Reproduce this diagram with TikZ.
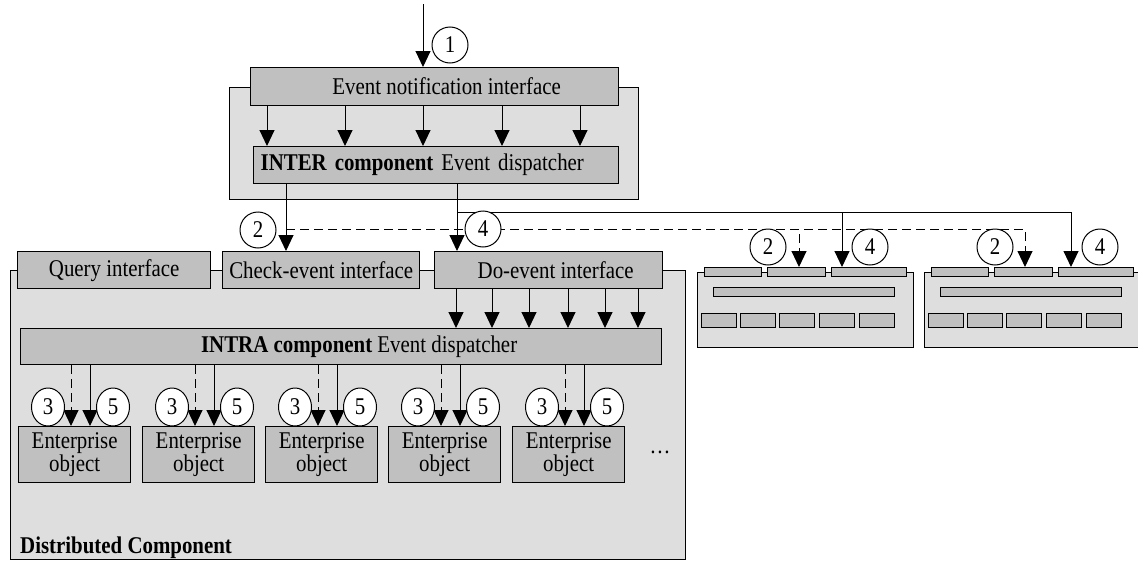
\documentclass[tikz,border=0pt]{standalone}
\usepackage{fontspec}
\setmainfont{Liberation Serif}[FakeStretch=0.87]
\usetikzlibrary{arrows.meta,shapes.geometric}
\definecolor{BoxGray}{HTML}{C0C0C0}
\definecolor{PanelGray}{HTML}{DEDEDE}

\tikzset{
  panel/.style={draw, line width=1.3pt, fill=PanelGray, anchor=north west, inner sep=0pt},
  ibox/.style={draw, line width=1.3pt, fill=BoxGray, anchor=north west, inner sep=0pt, align=center},
  mbox/.style={ibox, minimum height=9pt},
  num/.style={draw, circle, fill=white, line width=1pt, minimum size=36pt, inner sep=0pt},
  numo/.style={num, ellipse, minimum width=33pt, minimum height=38pt},
  flow/.style={line width=1pt, -{Triangle[width=15pt,length=16pt]}},
  chk/.style={flow, dash pattern=on 9pt off 5pt},
}

\begin{document}
\begin{tikzpicture}[x=1pt, y=-1pt, font=\fontsize{24}{21}\selectfont]
  \useasboundingbox (0,0) rectangle (1138,562);

  % ============================================
  % INTER component (top)
  % ============================================
  \node[panel, minimum width=409pt, minimum height=112pt] (topc) at (229,87) {};
  \node[ibox, minimum width=368pt, minimum height=38pt] (notif) at (250,67)
    {\hspace*{24pt}Event notification interface};
  \node[ibox, minimum height=37pt, text width=351pt, inner xsep=7pt, align=left] (inter) at (253,146)
    {\textbf{INTER component} Event dispatcher};

  % incoming event
  \coordinate (entry) at (423,4);
  \draw[flow] (entry) -- (entry |- notif.north);

  % notification -> dispatcher
  \foreach \x in {267,345,423,502,580} {
    \draw[flow] (\x,0 |- notif.south) -- (\x,0 |- inter.north);
  }

  % ============================================
  % Distributed Component
  % ============================================
  \node[panel, minimum width=675pt, minimum height=289pt] (dist) at (10,270) {};
  \node[font=\fontsize{24}{21}\selectfont\bfseries, anchor=base west, inner sep=0pt] (distlbl) at (20,553)
    {Distributed Component};

  % interfaces
  \node[ibox, minimum width=193pt, minimum height=37pt] (query) at (17,251) {Query interface};
  \node[ibox, minimum width=197pt, minimum height=37pt] (check) at (222,251) {Check-event interface};
  \node[ibox, minimum width=228pt, minimum height=37pt] (doev) at (434,251) {\hspace*{14pt}Do-event interface};

  % INTRA dispatcher
  \node[ibox, minimum width=641pt, minimum height=36pt] (intra) at (20,328)
    {\hspace*{36pt}\textbf{INTRA component} Event dispatcher};

  \foreach \x in {456,492,529,568,605,638} {
    \draw[flow] (\x,0 |- doev.south) -- (\x,0 |- intra.north);
  }

  % enterprise objects
  \foreach \i/\x in {1/18,2/142,3/265,4/388,5/512} {
    \node[ibox, minimum width=112pt, minimum height=56pt] (eo\i) at (\x,426) {Enterprise\\object};
    \draw[chk] (\x+53,0 |- intra.south) -- (\x+53,0 |- eo\i.north);
    \draw[flow] (\x+72,0 |- intra.south) -- (\x+72,0 |- eo\i.north);
    \node[numo] (nt\i) at (\x+30,407) {3};
    \node[numo] (nf\i) at (\x+95,407) {5};
  }
  \node (more) at (660,452) {\dots};

  % ============================================
  % other components (right)
  % ============================================
  \foreach \s/\sx in {a/0,b/227} {
    \begin{scope}[shift={(\sx,0)}]
      \node[panel, minimum width=216pt, minimum height=75pt] (sc\s) at (697,272) {};
      \node[mbox, minimum width=57pt] (q\s) at (704,267) {};
      \node[mbox, minimum width=58pt] (k\s) at (767,267) {};
      \node[mbox, minimum width=75pt] (d\s) at (831,267) {};
      \node[mbox, minimum width=181pt] (e\s) at (713,287) {};
      \foreach \j/\bx in {1/701,2/740,3/779,4/819,5/859} {
        \node[ibox, minimum width=35pt, minimum height=14pt] (o\s\j) at (\bx,313) {};
      }
    \end{scope}
  }

  % check-event / do-event calls
  \coordinate (ck) at (286,229);
  \coordinate (dv) at (457,212);
  \draw[flow] (286,0 |- inter.south) -- (286,0 |- check.north);
  \draw[flow] (457,0 |- inter.south) -- (457,0 |- doev.north);
  \draw[chk] (ck) -| (799,0 |- ka.north);
  \draw[chk] (ck) -| (1025,0 |- kb.north);
  \draw[flow] (dv) -| (842,0 |- da.north);
  \draw[flow] (dv) -| (1071,0 |- db.north);

  % step numbers
  \node[num] (n1) at (450,45) {1};
  \node[num] (n2) at (258,230) {2};
  \node[num] (n4) at (483,229) {4};
  \node[num] (n2a) at (768,247) {2};
  \node[num] (n4a) at (870,247) {4};
  \node[num] (n2b) at (995,247) {2};
  \node[num] (n4b) at (1100,247) {4};

\end{tikzpicture}
\end{document}
